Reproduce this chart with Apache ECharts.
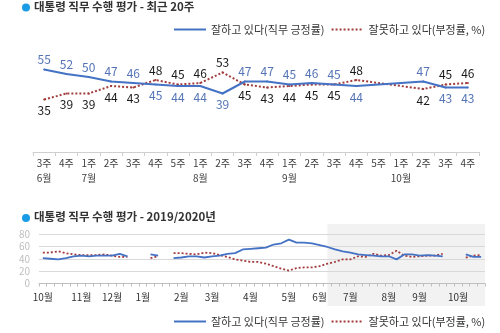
<!DOCTYPE html>
<html>
<head>
<meta charset="utf-8">
<script src="https://cdn.jsdelivr.net/npm/echarts@6/dist/echarts.min.js"></script>
<style>
html,body{margin:0;padding:0;background:#fff;}
#c{width:500px;height:333px;}
</style>
</head>
<body>
<div id="c"></div>
<script>
// ---- data ----
const POS_NAME = '잘하고 있다(직무 긍정률)';
const NEG_NAME = '잘못하고 있다(부정률, %)';
const title1 = '대통령 직무 수행 평가 - 최근 20주';
const title2 = '대통령 직무 수행 평가 - 2019/2020년';

// recent 20 weeks
const recentWeeks = ['3주\n6월','4주','1주\n7월','2주','3주','4주','5주','1주\n8월','2주','3주','4주','1주\n9월','2주','3주','4주','5주','1주\n10월','2주','3주','4주'];
const recentPos = [55,52,50,47,46,45,44,44,39,47,47,45,46,45,44,null,null,47,43,43];
const recentNeg = [35,39,39,44,43,48,45,46,53,45,43,44,45,45,48,null,null,42,45,46];

// long trend 2019.10 ~ 2020.10 (weeks before the recent 20)
const trendMonths = ['10월','11월','12월','1월','2월','3월','4월','5월','6월','7월','8월','9월','10월'];
const trendYears  = [2019,2019,2019,2020,2020,2020,2020,2020,2020,2020,2020,2020,2020];
const trendWeeksPerMonth = [5,4,4,5,4,5,5,4,4,5,4,5,4];
const earlyPos = [41,40,39,41,44,45,44,45,45,45,48,44,null,null,47,45,null,41,42,44,44,42,44,45,48,49,55,56,57,58,63,65,71,66,66,65,62,59];
const earlyNeg = [50,50,52,49,47,46,46,46,47,45,43,43,null,null,41,44,null,49,49,48,47,50,49,46,43,39,37,35,35,32,28,24,21,25,26,26,28,32];
const trendTicks = [0,20,40,60,80];

// ---- build ----
const trendCats = [];
trendMonths.forEach((m, i) => {
  for (let w = 1; w <= trendWeeksPerMonth[i]; w++) trendCats.push(trendYears[i] + '년 ' + m + ' ' + w + '주');
});
const trendPos = earlyPos.concat(recentPos);
const trendNeg = earlyNeg.concat(recentNeg);
const dash = v => (v == null ? '-' : v);

const BLUE = '#4472c4';
const RED = '#a23b3b';
const FONT = '"Noto Sans CJK KR", "Noto Sans", sans-serif';

const topPos = recentPos.map((v, i) => v == null ? '-' : {
  value: v, label: { position: v >= recentNeg[i] ? 'top' : 'bottom', distance: v >= recentNeg[i] ? 3 : 4 }
});
const topNeg = recentNeg.map((v, i) => v == null ? '-' : {
  value: v, label: { position: v > recentPos[i] ? 'top' : 'bottom', distance: v > recentPos[i] ? 3 : 4 }
});

const chart = echarts.init(document.getElementById('c'), null, { renderer: 'canvas' });

const legendBase = {
  left: 173,
  padding: 0,
  itemWidth: 32,
  itemHeight: 10,
  itemGap: 6,
  itemStyle: { opacity: 0 },
  textStyle: { fontFamily: FONT, fontSize: 11, color: '#333' },
  data: [POS_NAME, NEG_NAME],
  selectedMode: false
};

const option = {
  animation: false,
  textStyle: { fontFamily: FONT },
  title: [
    { text: title1, left: 34, top: 1, padding: 0, textStyle: { fontFamily: FONT, fontSize: 11.5, fontWeight: 'bold', color: '#333' } },
    { text: title2, left: 34, top: 211, padding: 0, textStyle: { fontFamily: FONT, fontSize: 11.5, fontWeight: 'bold', color: '#333' } }
  ],
  legend: [
    Object.assign({}, legendBase, { top: 24 }),
    Object.assign({}, legendBase, { top: 316 })
  ],
  grid: [
    { left: 33, right: 21, top: 2, height: 150 },
    { left: 39, right: 15, top: 234, height: 49.5 }
  ],
  xAxis: [
    {
      gridIndex: 0, type: 'category', data: recentWeeks, boundaryGap: true,
      axisLine: { lineStyle: { color: '#cfcfcf', width: 1 } },
      axisTick: { show: true, length: 4, lineStyle: { color: '#cfcfcf' } },
      axisLabel: { interval: 0, fontFamily: FONT, fontSize: 10, color: '#404040', lineHeight: 15, margin: 4 }
    },
    {
      gridIndex: 1, type: 'category', data: trendCats, boundaryGap: true,
      axisLine: { lineStyle: { color: '#bfbfbf', width: 1 } },
      axisTick: { show: true, interval: 0, length: 3, lineStyle: { color: '#bfbfbf' } },
      axisLabel: {
        interval: 0, fontFamily: FONT, fontSize: 10, color: '#333', margin: 9,
        formatter: v => { const p = v.split(' '); return p[2] === '1주' ? p[1] : ''; }
      }
    }
  ],
  yAxis: [
    { gridIndex: 0, type: 'value', min: 0, max: 100, show: false },
    {
      gridIndex: 1, type: 'value', min: trendTicks[0], max: trendTicks[trendTicks.length - 1], interval: 20,
      axisLine: { show: false }, axisTick: { show: false },
      axisLabel: { fontFamily: FONT, fontSize: 10, color: '#bfbfbf', margin: 9 },
      splitLine: { lineStyle: { color: '#d9d9d9', width: 1 } }
    }
  ],
  series: [
    {
      name: POS_NAME, type: 'line', xAxisIndex: 0, yAxisIndex: 0, data: topPos,
      symbol: 'circle', symbolSize: 2, showSymbol: true, showAllSymbol: true, connectNulls: true, z: 3,
      lineStyle: { color: BLUE, width: 2 }, itemStyle: { color: BLUE },
      label: { show: true, fontFamily: FONT, fontSize: 12, color: '#5474b6' }
    },
    {
      name: NEG_NAME, type: 'line', xAxisIndex: 0, yAxisIndex: 0, data: topNeg,
      symbol: 'circle', symbolSize: 2, showSymbol: true, showAllSymbol: true, connectNulls: true, z: 2,
      lineStyle: { color: RED, width: 2, type: [2, 2] }, itemStyle: { color: RED },
      label: { show: true, fontFamily: FONT, fontSize: 12, color: '#1a1a1a' }
    },
    {
      name: POS_NAME, type: 'line', xAxisIndex: 1, yAxisIndex: 1, data: trendPos.map(dash),
      symbol: 'none', connectNulls: false, z: 3,
      lineStyle: { color: BLUE, width: 1.8 }, itemStyle: { color: BLUE }
    },
    {
      name: NEG_NAME, type: 'line', xAxisIndex: 1, yAxisIndex: 1, data: trendNeg.map(dash),
      symbol: 'none', connectNulls: false, z: 2,
      lineStyle: { color: RED, width: 1.8, type: [2, 2] }, itemStyle: { color: RED }
    }
  ]
};
chart.setOption(option);

// decorations: title bullets and shaded recent-period band
const shadeStart = chart.convertToPixel({ xAxisIndex: 1 }, trendCats[trendPos.length - recentPos.length - 1]);
const gridRect = chart.getModel().getComponent('grid', 1).coordinateSystem.getRect();
chart.setOption({
  graphic: [
    { type: 'circle', shape: { cx: 26, cy: 7.5, r: 4 }, style: { fill: '#1a9be6' }, z: 10 },
    { type: 'circle', shape: { cx: 26, cy: 218, r: 4 }, style: { fill: '#1a9be6' }, z: 10 },
    { type: 'rect', shape: { x: shadeStart, y: 224, width: gridRect.x + gridRect.width - shadeStart, height: 82 },
      style: { fill: '#f2f2f2' }, z: -10, silent: true }
  ]
});
</script>
</body>
</html>
